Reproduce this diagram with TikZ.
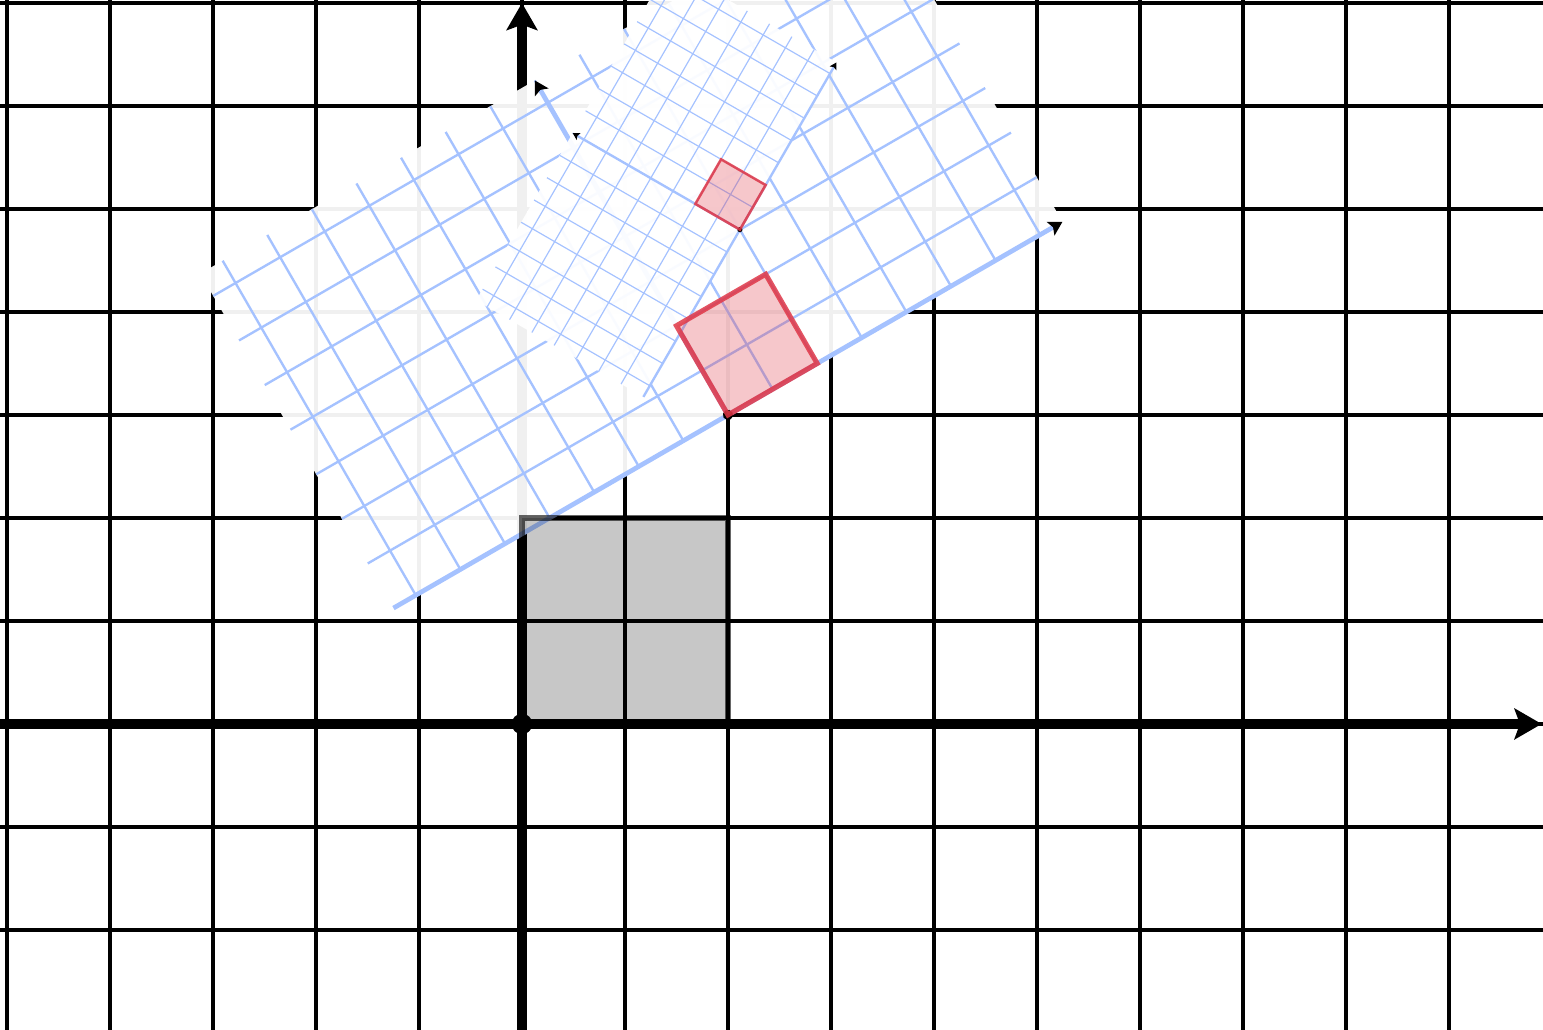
\documentclass[tikz,border=0pt]{standalone}
\usetikzlibrary{arrows.meta}

\definecolor{gridblue}{RGB}{165,194,255}
\definecolor{sqred}{RGB}{225,55,70}

\begin{document}
\begin{tikzpicture}[
        gridline/.style={line width=1.3pt},
        axis/.style={line width=2.6pt, -{Stealth[length=7.5pt, width=8.5pt, inset=1.5pt, color=black]}},
        panel/.style={fill=white, fill opacity=0.94},
        greysquare/.style={draw=black, draw opacity=0.6, line width=1.6pt, fill=black, fill opacity=0.22},
        redsquare/.style={draw=sqred, draw opacity=0.85, line width=2.8pt, fill=sqred, fill opacity=0.28}
    ]
        \useasboundingbox (-5.068,-2.971) rectangle (9.913,7.029);
        \clip (-5.068,-2.971) rectangle (9.913,7.029);

        % Original plane
        \draw[gridline] (-5.068,-2.971) grid (9.913,7.029);
        \draw[axis] (-5.068,0) -- (9.9,0);
        \draw[axis] (0,-2.971) -- (0,7);
        \fill (0,0) circle (0.1);

        % Image planes: p -> (2,3) + 0.5 R(30) p, once and twice
        \foreach \sx/\sy/\ang/\sc in {2/3/30/0.5, 2.116/4.799/60/0.25} {
            \begin{scope}[transform canvas={shift={(\sx,\sy)}, rotate=\ang, scale=\sc}]
                \fill[panel] (-7.5,0) rectangle (7.5,7.5);
                \foreach \u in {-7,...,7}
                    \draw[gridline, gridblue] (\u,0) -- (\u,7.5);
                \foreach \v in {1,...,7}
                    \draw[gridline, gridblue] (-7.5,\v) -- (7.5,\v);
                \draw[axis, gridblue] (-7.5,0) -- (7.5,0);
                \draw[axis, gridblue] (0,0) -- (0,7.5);
                \fill (0,0) circle (0.1);
            \end{scope}
        }

        % Unit square and its images
        \draw[greysquare] (0,0) rectangle (2,2);
        \foreach \sx/\sy/\ang/\sc in {2/3/30/0.5, 2.116/4.799/60/0.25} {
            \begin{scope}[transform canvas={shift={(\sx,\sy)}, rotate=\ang, scale=\sc}]
                \draw[redsquare] (0,0) rectangle (2,2);
            \end{scope}
        }
    \end{tikzpicture}
\end{document}
